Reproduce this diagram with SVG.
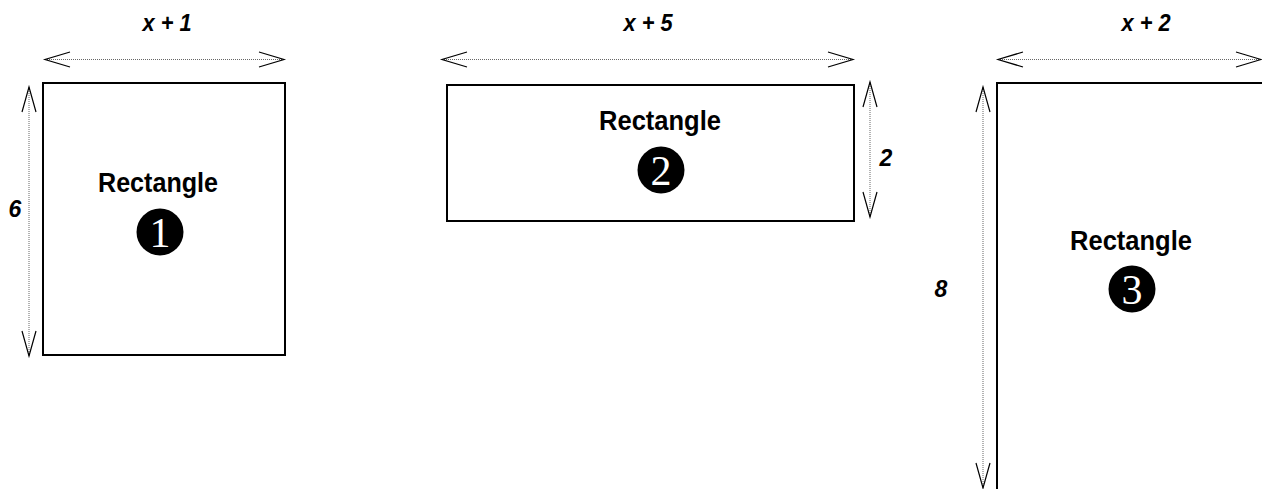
<svg xmlns="http://www.w3.org/2000/svg" width="1262" height="489" viewBox="0 0 1262 489">
<style>
.box{fill:#fff;stroke:#000;stroke-width:2}
.dim{stroke:#666;stroke-width:1;stroke-dasharray:1 1;fill:none}
.head{stroke:#000;stroke-width:1.2;fill:none}
.lbl{font-family:"Liberation Sans",Arial,sans-serif;font-weight:bold;font-style:italic;font-size:23px;text-anchor:middle;fill:#000}
.title{font-family:"Liberation Sans",Arial,sans-serif;font-weight:bold;font-size:27px;text-anchor:middle;fill:#000}
.num{font-family:"Liberation Serif","Times New Roman",serif;font-size:42px;text-anchor:middle;fill:#fff}
</style>
<rect width="1262" height="489" fill="#fff"/>
<g id="rect1">
<rect class="box" x="43" y="83" width="242" height="272"/>
<text class="title" x="158" y="192" textLength="120" lengthAdjust="spacingAndGlyphs">Rectangle</text>
<circle cx="160" cy="232" r="23.5"/>
<text class="num" x="160" y="246.5">1</text>
</g>
<g id="rect2">
<rect class="box" x="447" y="85" width="407" height="136"/>
<text class="title" x="660" y="130" textLength="122" lengthAdjust="spacingAndGlyphs">Rectangle</text>
<circle cx="661" cy="170" r="23.5"/>
<text class="num" x="661" y="184.5">2</text>
</g>
<g id="rect3">
<rect class="box" x="997" y="83" width="280" height="420"/>
<text class="title" x="1131" y="250" textLength="122" lengthAdjust="spacingAndGlyphs">Rectangle</text>
<circle cx="1132" cy="289" r="23.5"/>
<text class="num" x="1132" y="303.5">3</text>
</g>
<g id="dimensions">
<line class="dim" x1="45" y1="59.5" x2="284" y2="59.5"/>
<path class="head" d="M70,52 L45,59.5 L70,67 M259,52 L284,59.5 L259,67"/>
<text class="lbl" x="167" y="31" textLength="49" lengthAdjust="spacingAndGlyphs">x + 1</text>
<line class="dim" x1="29" y1="87" x2="29" y2="356"/>
<path class="head" d="M22,112 L29,87 L36,112 M22,331 L29,356 L36,331"/>
<text class="lbl" x="15" y="217">6</text>
<line class="dim" x1="442" y1="59.5" x2="853" y2="59.5"/>
<path class="head" d="M467,52 L442,59.5 L467,67 M828,52 L853,59.5 L828,67"/>
<text class="lbl" x="648" y="31" textLength="49" lengthAdjust="spacingAndGlyphs">x + 5</text>
<line class="dim" x1="870" y1="82" x2="870" y2="217"/>
<path class="head" d="M863,107 L870,82 L877,107 M863,192 L870,217 L877,192"/>
<text class="lbl" x="886" y="166">2</text>
<line class="dim" x1="998" y1="59.5" x2="1262" y2="59.5"/>
<path class="head" d="M1023,52 L998,59.5 L1023,67 M1236,52 L1261,59.5 L1236,67"/>
<text class="lbl" x="1146" y="31" textLength="49" lengthAdjust="spacingAndGlyphs">x + 2</text>
<line class="dim" x1="983" y1="87" x2="983" y2="488"/>
<path class="head" d="M976,112 L983,87 L990,112 M976,463 L983,488 L990,463"/>
<text class="lbl" x="941" y="297">8</text>
</g>
</svg>
